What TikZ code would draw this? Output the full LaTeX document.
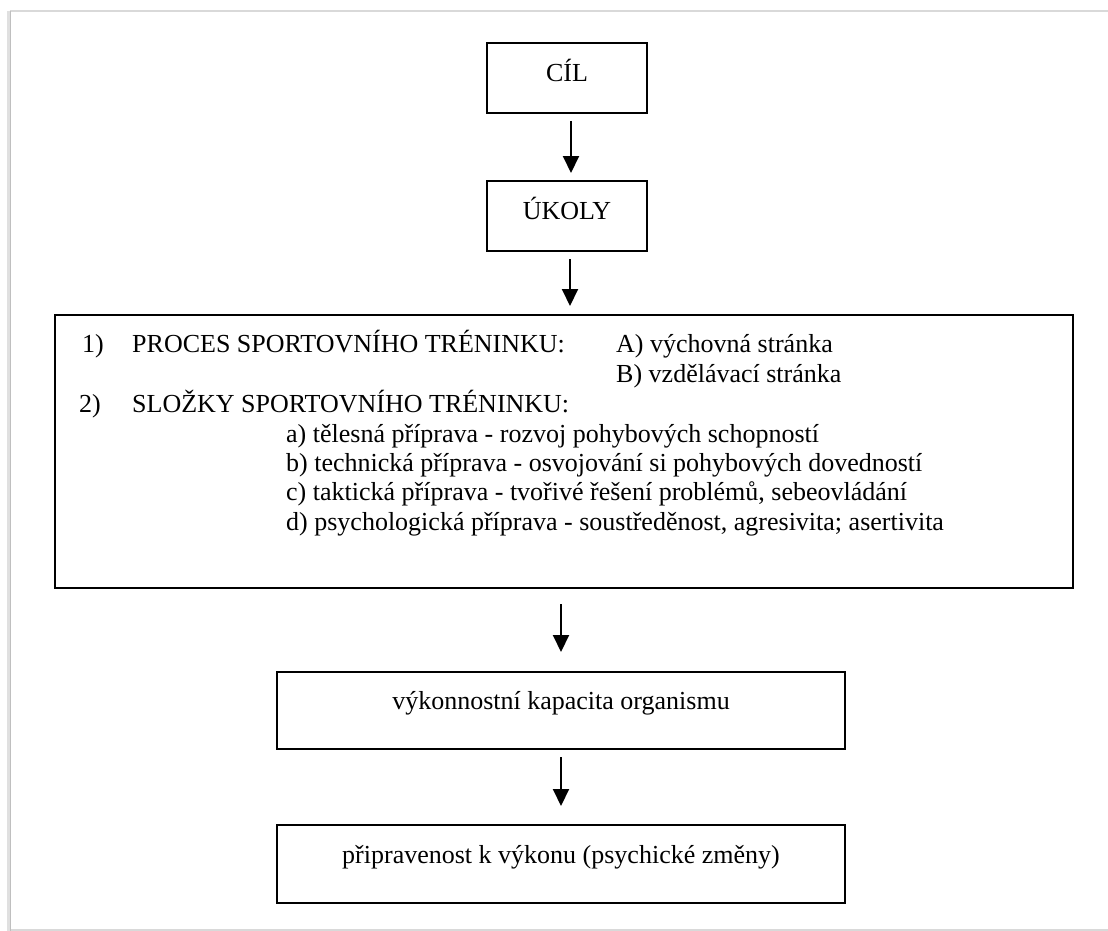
\documentclass[tikz,border=0pt]{standalone}
\usepackage{fontspec}
\setmainfont{Liberation Serif}
\usetikzlibrary{arrows.meta}
\begin{document}
\begin{tikzpicture}[x=1pt,y=-1pt,
  box/.style={draw=black,line width=2pt,rectangle,inner sep=0pt},
  txt/.style={inner sep=0pt,font=\fontsize{26pt}{30pt}\selectfont},
  arr/.style={line width=2pt,-{Triangle[width=16pt,length=17pt]}},
  frame/.style={line width=2pt,draw=black!15}]
\fill[white] (0,0) rectangle (1108,931);
\useasboundingbox (0,0) rectangle (1108,931);
% page frame with soft shadow
\draw[frame] (10,11) -- (1108,11);
\draw[frame] (10,930) -- (1108,930);
\draw[line width=3pt,draw=black!12] (8.5,11) -- (8.5,931);
\draw[line width=1.2pt,draw=black!25] (10.5,11) -- (10.5,931);
% boxes
\node[box,minimum width=160pt,minimum height=70pt] (cil) at (567,78) {};
\node[box,minimum width=160pt,minimum height=70pt] (ukoly) at (567,216) {};
\node[box,minimum width=1018pt,minimum height=273pt] (main) at (564,451.5) {};
\node[box,minimum width=568pt,minimum height=77pt] (kap) at (561,710.5) {};
\node[box,minimum width=568pt,minimum height=78pt] (pri) at (561,864) {};
% box texts
\node[txt,anchor=base] (tcil) at (567,82) {CÍL};
\node[txt,anchor=base] (tukoly) at (567,219) {ÚKOLY};
\node[txt,anchor=base] (tkap) at (561,709) {výkonnostní kapacita organismu};
\node[txt,anchor=base] (tpri) at (561,863) {připravenost k výkonu (psychické změny)};
% main box content
\node[txt,anchor=base west] (n1) at (82,352) {1)};
\node[txt,anchor=base west] (l1) at (132,352) {PROCES SPORTOVNÍHO TRÉNINKU:};
\node[txt,anchor=base west] (la) at (616,352) {A) výchovná stránka};
\node[txt,anchor=base west] (lb) at (616,382) {B) vzdělávací stránka};
\node[txt,anchor=base west] (n2) at (79,412) {2)};
\node[txt,anchor=base west] (l2) at (132,412) {SLOŽKY SPORTOVNÍHO TRÉNINKU:};
\node[txt,anchor=base west] (sa) at (286,442) {a) tělesná příprava - rozvoj pohybových schopností};
\node[txt,anchor=base west] (sb) at (286,471) {b) technická příprava - osvojování si pohybových dovedností};
\node[txt,anchor=base west] (sc) at (286,500) {c) taktická příprava - tvořivé řešení problémů, sebeovládání};
\node[txt,anchor=base west] (sd) at (286,530) {d) psychologická příprava - soustředěnost, agresivita; asertivita};
% connectors
\draw[arr,shorten <=7pt,shorten >=7pt] ([xshift=4pt]cil.south) -- ([xshift=4pt]ukoly.north);
\draw[arr,shorten <=7pt,shorten >=8pt] ([xshift=3pt]ukoly.south) -- ([xshift=6pt]main.north);
\draw[arr,shorten <=15pt,shorten >=19pt] ([xshift=-3pt]main.south) -- (kap.north);
\draw[arr,shorten <=7pt,shorten >=18pt] (kap.south) -- (pri.north);
\end{tikzpicture}
\end{document}
